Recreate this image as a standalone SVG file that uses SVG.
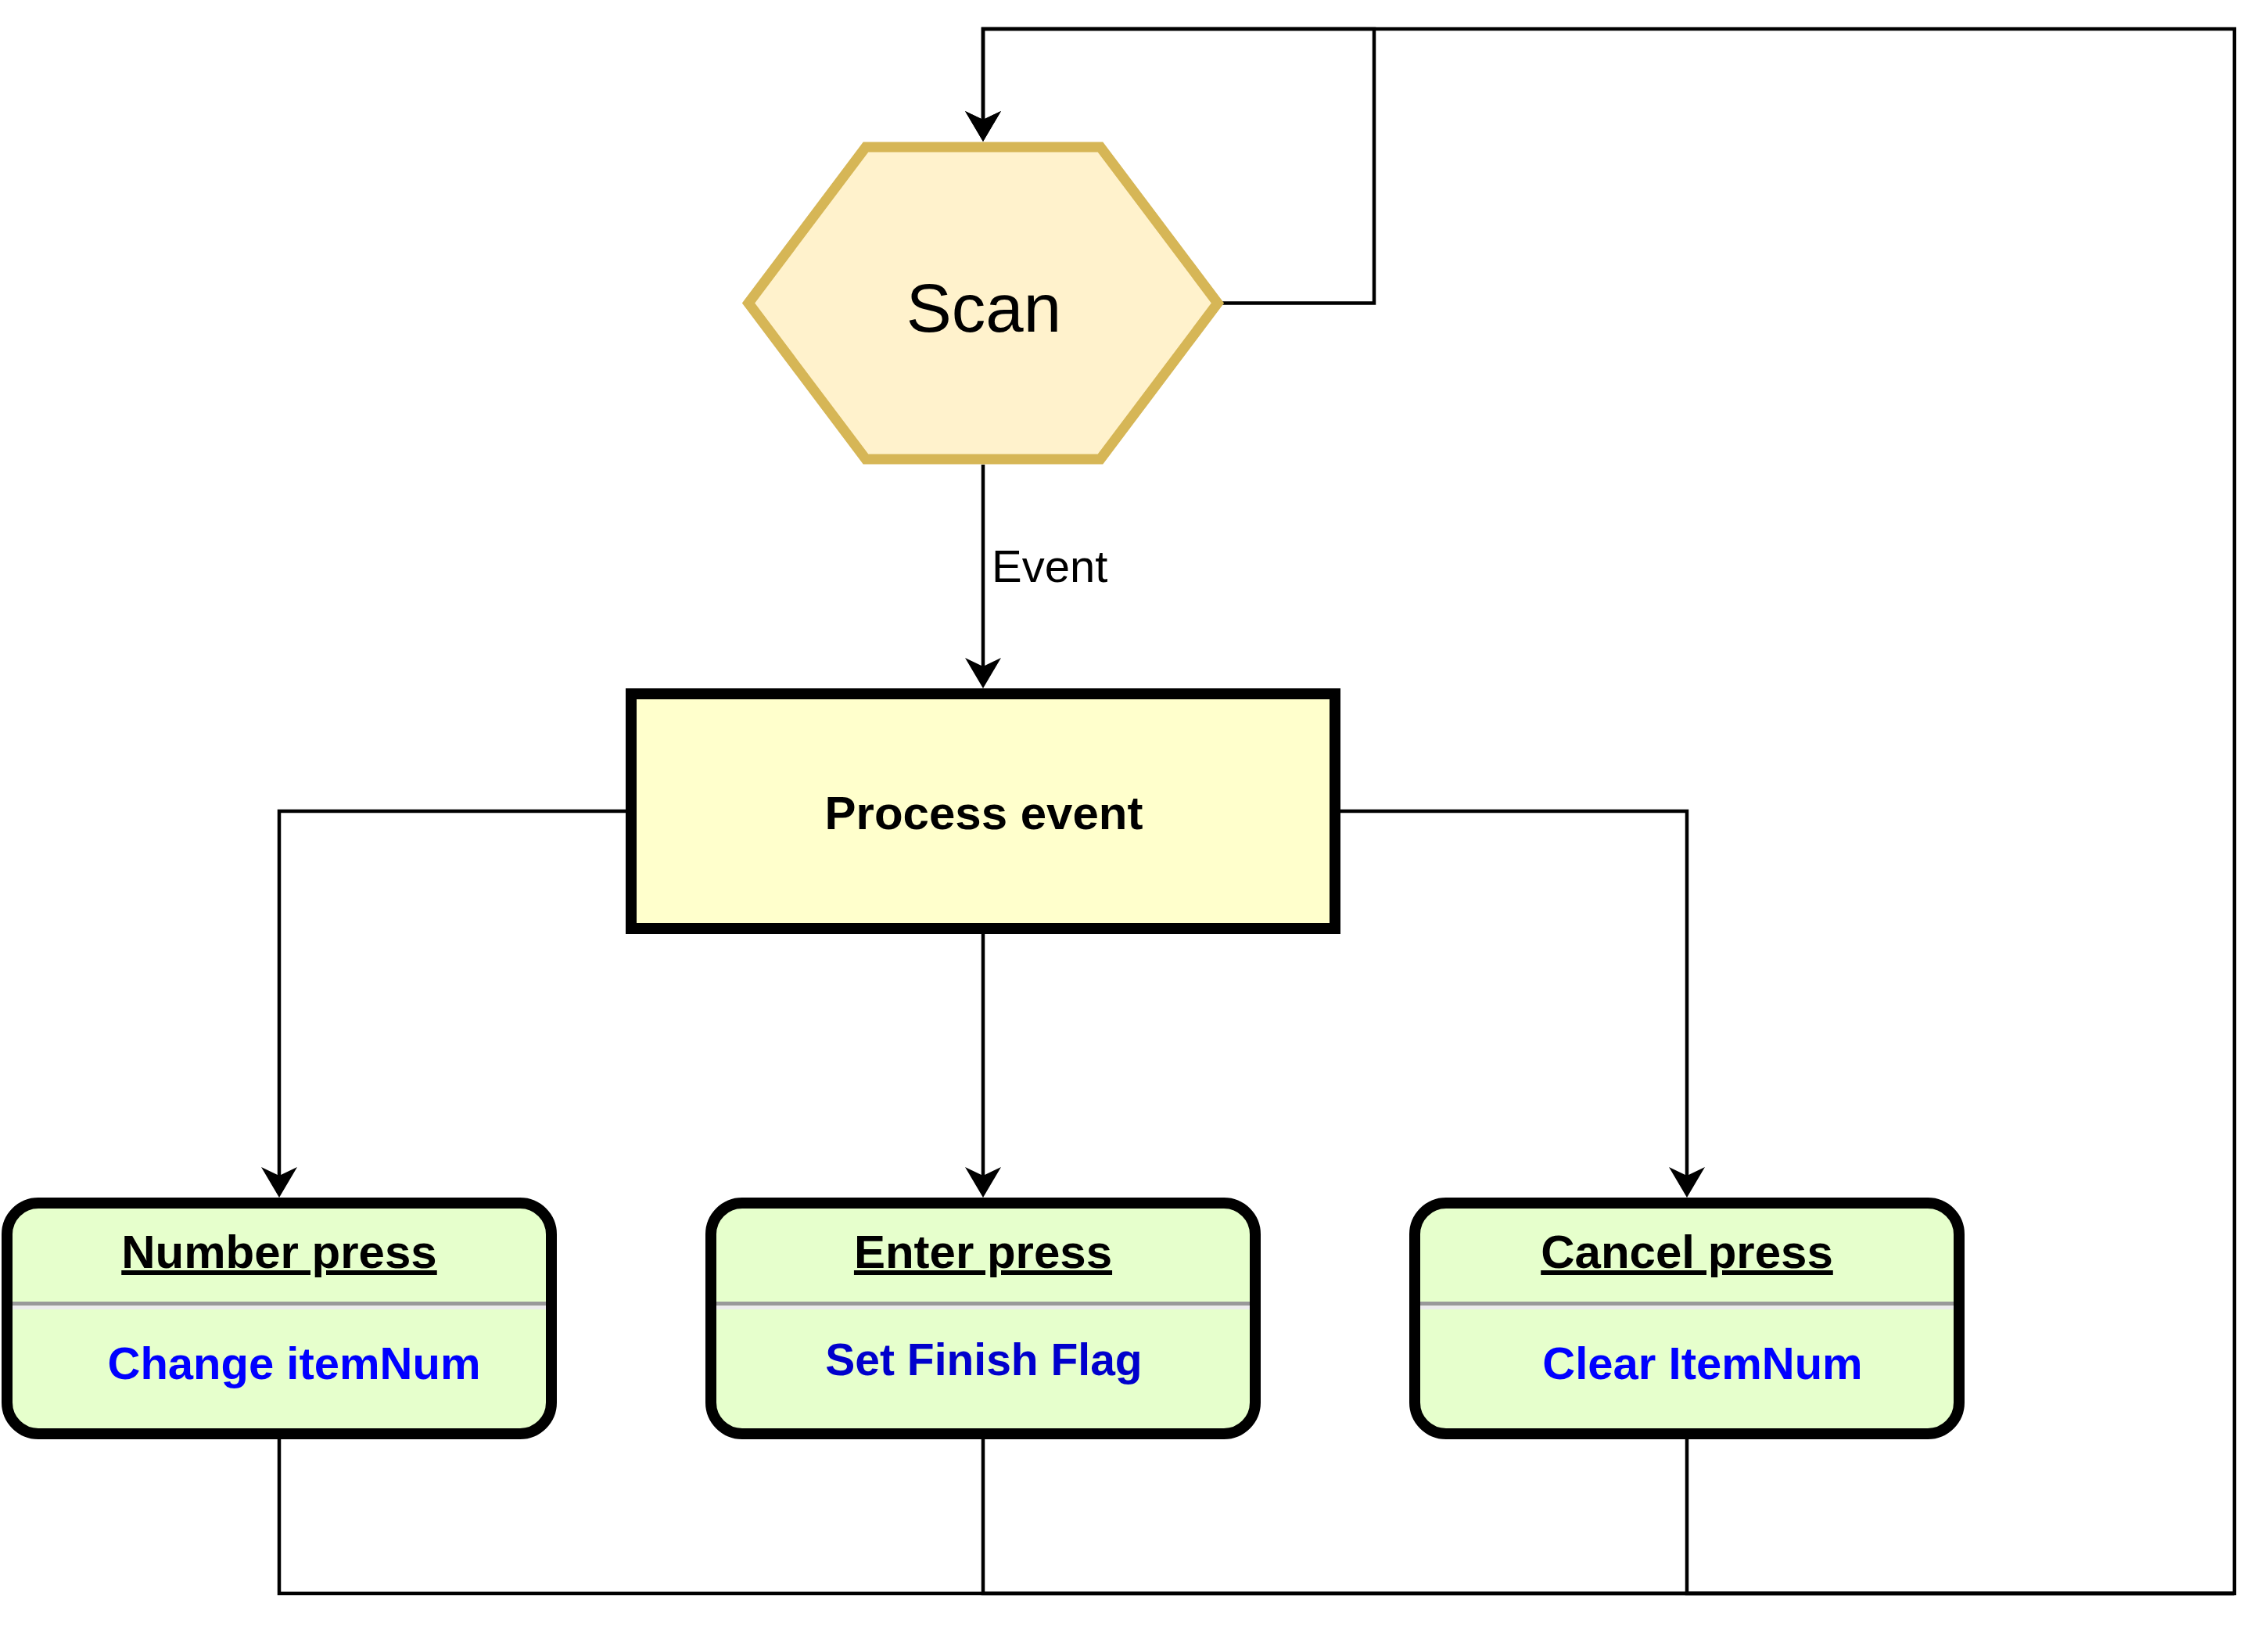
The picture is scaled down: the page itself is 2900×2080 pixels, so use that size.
<svg xmlns="http://www.w3.org/2000/svg" width="2900" height="2080" viewBox="0 0 2900 2080">
<style>
.edge{fill:none;stroke:#000;stroke-width:4.5;stroke-linejoin:miter}
.state{fill:#e6ffcc;stroke:#000;stroke-width:14}
.title{font-family:"Liberation Sans",Arial,sans-serif;font-weight:bold;font-size:60px;fill:#000;text-anchor:middle;text-decoration:underline}
.action{font-family:"Liberation Sans",Arial,sans-serif;font-weight:bold;font-size:58px;fill:#0000ff;text-anchor:middle}
.divg{fill:#999999}
.divl{fill:#ececec}
</style>
<defs>
<marker id="arr" markerUnits="userSpaceOnUse" viewBox="0 0 40 46" markerWidth="40" markerHeight="46" refX="29" refY="23" orient="auto">
<path d="M0,0 L39,23 L0,46 L11,23 Z" fill="#000"/>
</marker>
</defs>
<rect width="2900" height="2080" fill="#fff"/>
<g id="connectors">
<path class="edge" d="M1257,594 V870" marker-end="url(#arr)"/>
<text x="1268" y="744" font-family="Liberation Sans, Arial, sans-serif" font-size="58" fill="#000">Event</text>
<path class="edge" d="M800,1037 H357 V1521" marker-end="url(#arr)"/>
<path class="edge" d="M1257,1194 V1521" marker-end="url(#arr)"/>
<path class="edge" d="M1714,1037 H2157 V1521" marker-end="url(#arr)"/>
<path class="edge" d="M1563,387.5 H1757 V37 H1257 V171" marker-end="url(#arr)"/>
<path class="edge" d="M357,1840 V2037 H2857 V37 H1257 V171" marker-end="url(#arr)"/>
<path class="edge" d="M1257,1840 V2037 H2857"/>
<path class="edge" d="M2157,1840 V2037 H2857"/>
</g>
<g id="scan">
<polygon points="957,387.5 1107,188 1407,188 1557,387.5 1407,587 1107,587" fill="#fff2cc" stroke="#d6b656" stroke-width="13"/>
<text x="1258" y="424" font-family="Liberation Sans, Arial, sans-serif" font-size="87" fill="#000" text-anchor="middle">Scan</text>
</g>
<g id="process-event">
<rect x="807" y="887" width="900" height="300" fill="#ffffcc" stroke="#000" stroke-width="14"/>
<text x="1258" y="1060" font-family="Liberation Sans, Arial, sans-serif" font-weight="bold" font-size="60" fill="#000" text-anchor="middle">Process event</text>
</g>
<g id="number-press">
<rect class="state" x="9" y="1538" width="696" height="295" rx="40" ry="40"/>
<rect class="divg" x="16" y="1664" width="682" height="5"/>
<rect class="divl" x="16" y="1669" width="682" height="5"/>
<text class="title" x="357" y="1621">Number press</text>
<text class="action" x="376" y="1763">Change itemNum</text>
</g>
<g id="enter-press">
<rect class="state" x="909" y="1538" width="696" height="295" rx="40" ry="40"/>
<rect class="divg" x="916" y="1664" width="682" height="5"/>
<rect class="divl" x="916" y="1669" width="682" height="5"/>
<text class="title" x="1257" y="1621">Enter press</text>
<text class="action" x="1258" y="1758" style="font-size:57px;fill:#0000cc">Set Finish Flag</text>
</g>
<g id="cancel-press">
<rect class="state" x="1809" y="1538" width="696" height="295" rx="40" ry="40"/>
<rect class="divg" x="1816" y="1664" width="682" height="5"/>
<rect class="divl" x="1816" y="1669" width="682" height="5"/>
<text class="title" x="2157" y="1621">Cancel press</text>
<text class="action" x="2177" y="1763">Clear ItemNum</text>
</g>
</svg>
